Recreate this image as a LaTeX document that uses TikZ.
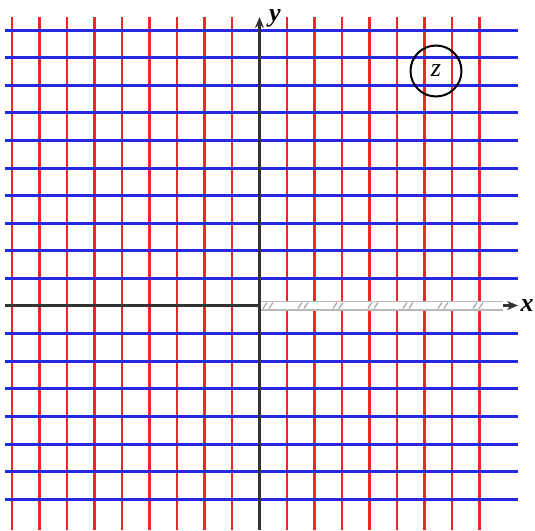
\documentclass[tikz,border=0pt]{standalone}
\usepackage{fontspec}
\setmainfont{Liberation Serif}
\usetikzlibrary{arrows.meta}
\definecolor{gridred}{RGB}{238,40,40}
\definecolor{gridblue}{RGB}{40,40,225}
\begin{document}
\begin{tikzpicture}[x=1pt,y=-1pt,
  redline/.style={gridred,line width=2.6pt},
  blueline/.style={gridblue,line width=3pt},
  axis/.style={black!80,line width=2.2pt},
  cutouter/.style={gray!55,line width=10pt},
  cutinner/.style={white,line width=7pt},
  hatch/.style={gray!65,line width=1.3pt},
  lbl/.style={font=\fontsize{26}{26}\selectfont\bfseries\itshape,inner sep=0pt},
  zcircle/.style={draw,circle,line width=2pt,minimum size=51pt,inner sep=0pt,font=\fontsize{26}{26}\selectfont\itshape}]
\useasboundingbox (0,0) rectangle (535,530);
\foreach \k in {-9,...,-1,1,2,...,8}
  \draw[redline] ({259.5+27.5*\k},17) -- ({259.5+27.5*\k},530);
\foreach \k in {-10,...,-1,1,2,...,7}
  \draw[blueline] (5,{306+27.6*\k}) -- (518,{306+27.6*\k});
\coordinate (O) at (259.5,305.5);
\coordinate (yb) at (259.5,530);
\coordinate (yt) at (259.5,17);
\coordinate (xl) at (5,305.5);
\coordinate (cutend) at (503,305.5);
\coordinate (xt) at (518,305.5);
\draw[axis] (xl) -- (O);
\draw[cutouter] (O) -- (cutend);
\draw[cutinner] (O) -- (cutend);
\foreach \x in {263,298,333,368,403,438,473} {
  \draw[hatch] (\x,308.5) -- (\x+4,302.5);
  \draw[hatch] (\x+6,308.5) -- (\x+10,302.5);
}
\draw[axis,-{Stealth[length=11pt,width=9pt]}] (yb) -- (yt);
\draw[axis,-{Stealth[length=11pt,width=9pt]}] (cutend) -- (xt);
\node[lbl,anchor=base] (ylab) at (275,21) {y};
\node[lbl] (xlab) at (527,306) {x};
\node[zcircle] (z) at (436,71) {z};
\end{tikzpicture}
\end{document}
